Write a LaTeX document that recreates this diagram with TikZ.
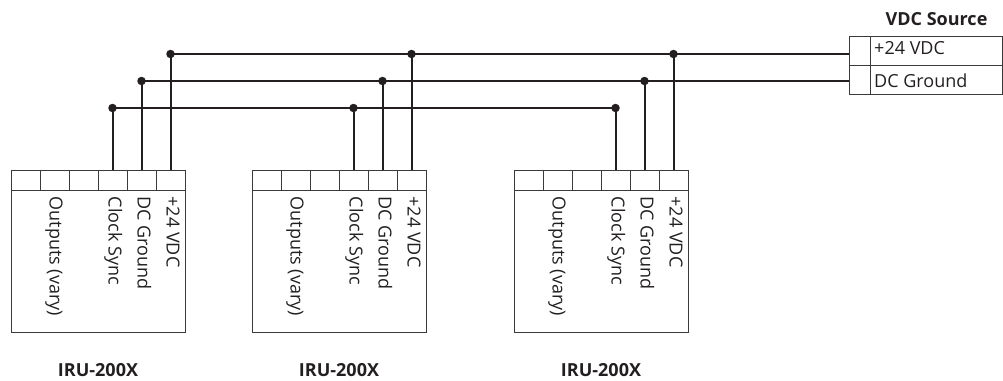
\documentclass[tikz,border=0pt]{standalone}
\usepackage{fontspec}
\setmainfont{Open Sans}
\definecolor{wirecol}{HTML}{231F20}
\definecolor{boxcol}{HTML}{3A3A3A}
\begin{document}
\begin{tikzpicture}[x=1pt,y=-1pt,
  wire/.style={line width=2pt, draw=wirecol},
  boxline/.style={line width=1pt, draw=boxcol},
  dot/.style={circle, fill=wirecol, inner sep=0pt, minimum size=8.5pt},
  lbl/.style={font=\fontsize{18}{21}\selectfont, inner sep=0pt, text=wirecol},
  vlbl/.style={lbl, rotate=-90, anchor=base west},
  title/.style={font=\fontsize{18}{21}\selectfont\bfseries, inner sep=0pt, anchor=base, text=wirecol}]
\useasboundingbox (0,0) rectangle (1003,380);

% IRU units
\foreach \i/\L in {1/11,2/252,3/514}{
  \draw[boxline] (\L,170) rectangle (\L+174,332.5);
  \draw[boxline] (\L,190.5) -- (\L+174,190.5);
  \foreach \k in {1,...,5} \draw[boxline] (\L+29*\k,170) -- (\L+29*\k,190.5);
  \coordinate (t\i cs) at (\L+101.5,170);
  \coordinate (t\i gd) at (\L+130.5,170);
  \coordinate (t\i pw) at (\L+159.5,170);
  \node[vlbl] (o\i) at (\L+38.5,196.5) {Outputs (vary)};
  \node[vlbl] (c\i) at (\L+97.5,196.5) {Clock Sync};
  \node[vlbl] (g\i) at (\L+126.5,196.5) {DC Ground};
  \node[vlbl] (p\i) at (\L+155.5,196.5) {+24 VDC};
  \node[title] (n\i) at (\L+87,376) {IRU-200X};
}

% VDC source
\draw[boxline] (849,36) rectangle (1002.5,94.5);
\draw[boxline] (849,65.5) -- (1002.5,65.5);
\draw[boxline] (870.5,36) -- (870.5,94.5);
\coordinate (s24) at (849,54);
\coordinate (sgd) at (849,81);
\node[lbl, anchor=base west] (l24) at (874,54.5) {+24 VDC};
\node[lbl, anchor=base west] (lgd) at (874,87) {DC Ground};
\node[title] (vs) at (936.5,25) {VDC Source};

% junction dots
\node[dot] (d1pw) at (170.5,54) {};
\node[dot] (d1gd) at (141.5,81) {};
\node[dot] (d1cs) at (112.5,108) {};
\node[dot] (d2pw) at (411.5,54) {};
\node[dot] (d2gd) at (382.5,81) {};
\node[dot] (d2cs) at (353.5,108) {};
\node[dot] (d3pw) at (673.5,54) {};
\node[dot] (d3gd) at (644.5,81) {};
\node[dot] (d3cs) at (615.5,108) {};

% buses
\draw[wire] (d1pw.center) -- (s24);
\draw[wire] (d1gd.center) -- (sgd);
\draw[wire] (d1cs.center) -- (d3cs.center);

% drops
\foreach \i in {1,2,3}{
  \draw[wire] (d\i pw.center) -- (t\i pw);
  \draw[wire] (d\i gd.center) -- (t\i gd);
  \draw[wire] (d\i cs.center) -- (t\i cs);
}
\end{tikzpicture}
\end{document}
